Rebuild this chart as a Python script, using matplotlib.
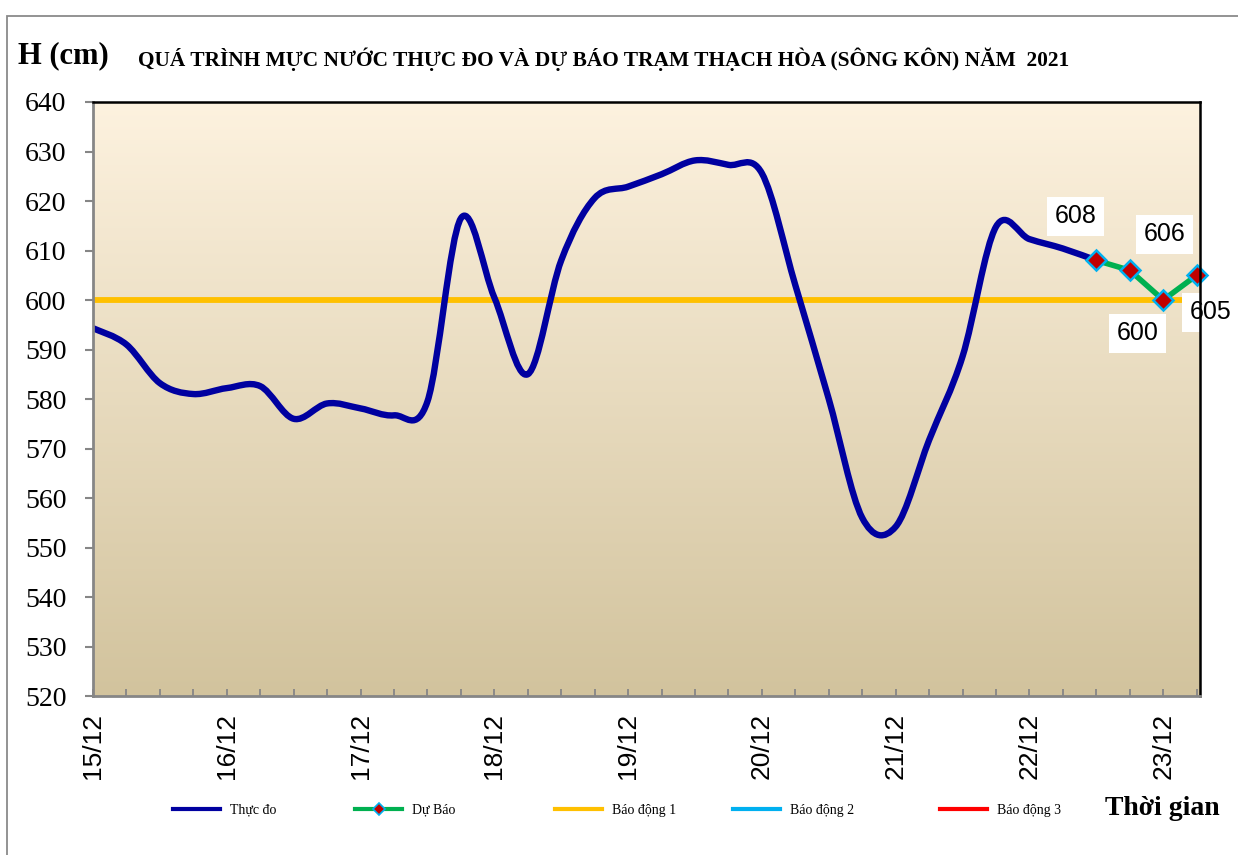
import matplotlib
matplotlib.use("Agg")
import matplotlib.pyplot as plt
import numpy as np
from matplotlib.path import Path
from matplotlib.patches import PathPatch, Rectangle
from matplotlib.lines import Line2D

# ---------------- data ----------------
day_labels = ["15/12", "16/12", "17/12", "18/12", "19/12", "20/12", "21/12", "22/12", "23/12"]
obs_hours = list(range(0, 181, 6))
obs_values = [594.3, 591.0, 583.2, 581.0, 582.2, 582.6, 576.0, 579.1, 578.1, 576.7,
              579.5, 616.5, 600.5, 585.0, 608.0, 620.6, 622.9, 625.4, 628.2, 627.3,
              625.6, 603.0, 580.0, 556.0, 554.2, 571.7, 588.6, 614.8, 612.3, 610.4,
              608.0]
fc_hours = [180, 186, 192, 198]
fc_values = [608, 606, 600, 605]
fc_labels = ["608", "606", "600", "605"]
alarm1 = 600
alarm1_end_hour = 196
series_names = ["Thực đo", "Dự Báo", "Báo động 1", "Báo động 2", "Báo động 3"]
title_text = "QUÁ TRÌNH MỰC NƯỚC THỰC ĐO VÀ DỰ BÁO TRẠM THẠCH HÒA (SÔNG KÔN) NĂM  2021"

# ---------------- styling ----------------
SERIF = ["Liberation Serif", "DejaVu Serif"]
SANS = ["Liberation Sans", "DejaVu Sans"]
C_OBS = "#0000A0"
C_FC = "#00B050"
C_A1 = "#FFC000"
C_A2 = "#00B0F0"
C_A3 = "#FF0000"
C_MK = "#C00000"

W, H = 1238, 855
fig = plt.figure(figsize=(W / 100, H / 100), dpi=100)
fig.patch.set_facecolor("white")
L, R, T, B = 93, 1200, 102, 696
ax = fig.add_axes([L / W, 1 - B / H, (R - L) / W, (B - T) / H])

# gradient background
top = np.array([253, 242, 223]) / 255
bot = np.array([210, 195, 157]) / 255
g = np.linspace(0, 1, 256)[:, None]
grad = top[None, :] * (1 - g) + bot[None, :] * g
ax.imshow(grad[:, None, :], extent=[0, 1, 0, 1], transform=ax.transAxes,
          aspect="auto", zorder=0, interpolation="bilinear")

ax.set_xlim(0, 198.6)
ax.set_ylim(520, 640)

# smoothed observed line (Catmull-Rom Bezier, like Excel smoothing)
pts = np.column_stack([obs_hours, obs_values]).astype(float)
n = len(pts)
verts = [tuple(pts[0])]
codes = [Path.MOVETO]
for i in range(n - 1):
    p0 = pts[i - 1] if i > 0 else pts[i]
    p1 = pts[i]
    p2 = pts[i + 1]
    p3 = pts[i + 2] if i + 2 < n else pts[i + 1]
    c1 = p1 + (p2 - p0) / 6.0
    c2 = p2 - (p3 - p1) / 6.0
    verts += [tuple(c1), tuple(c2), tuple(p2)]
    codes += [Path.CURVE4] * 3
patch = PathPatch(Path(verts, codes), facecolor="none", edgecolor=C_OBS,
                  lw=4.6, capstyle="round", joinstyle="round", zorder=4,
                  transform=ax.transData)
ax.add_patch(patch)

# alarm level 1
ax.plot([0, alarm1_end_hour], [alarm1, alarm1], color=C_A1, lw=4.2, zorder=3,
        solid_capstyle="butt")

# forecast
ax.plot(fc_hours, fc_values, color=C_FC, lw=4.0, zorder=5,
        marker="D", markersize=10.5, markerfacecolor=C_MK,
        markeredgecolor=C_A2, markeredgewidth=1.8, clip_on=False)

# data labels
offsets = [(-21, 44), (35, 36), (-26, -33), (14, -37)]
for x, y, s, off in zip(fc_hours, fc_values, fc_labels, offsets):
    ax.annotate(s, (x, y), xytext=off, textcoords="offset pixels",
                ha="center", va="center", fontsize=18, family=SANS,
                bbox=dict(boxstyle="square,pad=0.3", fc="white", ec="none"),
                zorder=6, annotation_clip=False)

# axes, ticks
ax.set_yticks(np.arange(520, 641, 10))
ax.set_yticklabels([str(v) for v in range(520, 641, 10)], family=SERIF, fontsize=20)
ax.tick_params(axis="y", direction="out", length=6, width=1.5, color="#868686", pad=13)
ax.set_xticks([24 * i for i in range(len(day_labels))])
ax.set_xticklabels(day_labels, rotation=90, family=SANS, fontsize=19)
ax.set_xticks(np.arange(0, 199, 6), minor=True)
ax.tick_params(axis="x", which="both", direction="in", length=5, width=1.3,
               color="#868686", pad=12)

for s in ["top", "right"]:
    ax.spines[s].set_color("black")
    ax.spines[s].set_linewidth(1.8)
for s in ["left", "bottom"]:
    ax.spines[s].set_color("#868686")
    ax.spines[s].set_linewidth(2.0)
for s in ax.spines.values():
    s.set_zorder(7)

# titles
fig.text(18 / W, 1 - 56 / H, "H (cm)", family=SERIF, fontsize=22, weight="bold",
         ha="left", va="center")
fig.text(138 / W, 1 - 59 / H, title_text, family=SERIF, fontsize=15.4, weight="bold",
         ha="left", va="center")
fig.text(1105 / W, 1 - 808 / H, "Thời gian", family=SERIF, fontsize=20, weight="bold",
         ha="left", va="center")

# legend
handles = [
    Line2D([], [], color=C_OBS, lw=3),
    Line2D([], [], color=C_FC, lw=3, marker="D", markersize=6,
           markerfacecolor=C_MK, markeredgecolor=C_A2, markeredgewidth=1.2),
    Line2D([], [], color=C_A1, lw=3),
    Line2D([], [], color=C_A2, lw=3),
    Line2D([], [], color=C_A3, lw=3),
]
leg_x = [173, 355, 555, 733, 940]
for h, name, lx in zip(handles, series_names, leg_x):
    fig.legend([h], [name], loc="center left", bbox_to_anchor=(lx / W, 1 - 810 / H),
               frameon=False, borderpad=0, borderaxespad=0, handlelength=3.4,
               handletextpad=0.7, prop=dict(family=SERIF, size=10))

# outer chart border
fig.patches.append(Rectangle((7 / W, -0.1), 1.2, (1 - 16 / H) + 0.1,
                             transform=fig.transFigure, fill=False,
                             ec="#8a8a8a", lw=1.3))

fig.savefig("out.png", dpi=100)
